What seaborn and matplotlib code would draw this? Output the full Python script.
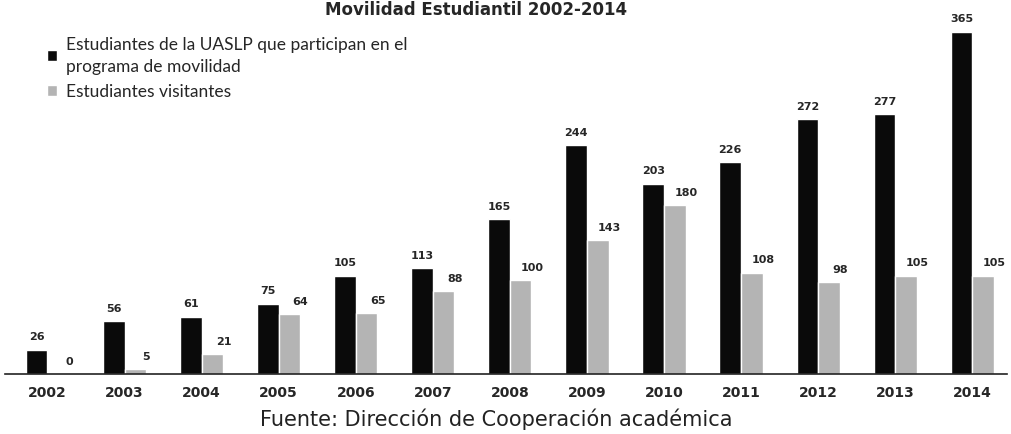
import numpy as np
import pandas as pd
import matplotlib.pyplot as plt
import seaborn as sns

years = ["2002", "2003", "2004", "2005", "2006", "2007", "2008",
         "2009", "2010", "2011", "2012", "2013", "2014"]
uaslp = [26, 56, 61, 75, 105, 113, 165, 244, 203, 226, 272, 277, 365]
visitantes = [0, 5, 21, 64, 65, 88, 100, 143, 180, 108, 98, 105, 105]

lab_uaslp = "Estudiantes de la UASLP que participan en el\nprograma de movilidad"
lab_visit = "Estudiantes visitantes"

df = pd.DataFrame({
    "year": years * 2,
    "value": uaslp + visitantes,
    "serie": [lab_uaslp] * len(years) + [lab_visit] * len(years),
})

sns.set_style("white")
plt.rcParams['font.family'] = ['DejaVu Sans']

fig = plt.figure(figsize=(10.12, 4.35), dpi=100)
ax = fig.add_axes([0.005, 0.138, 0.99, 0.862])

sns.barplot(data=df, x="year", y="value", hue="serie",
            palette=["#0a0a0a", "#b4b4b4"], width=0.56, gap=0,
            saturation=1, ax=ax)

# value labels (second series shifted right, like the original)
for i, cont in enumerate(ax.containers):
    dx = 0 if i == 0 else 8
    for bar, v in zip(cont.patches, cont.datavalues):
        ax.annotate(f"{v:.0f}", (bar.get_x() + bar.get_width() / 2, bar.get_height()),
                    xytext=(dx, 6), textcoords="offset points",
                    ha="center", va="bottom", fontsize=8, fontweight="bold")

ax.set_ylim(0, 400)
ax.set_xlim(-0.55, 12.45)
ax.set_xlabel("")
ax.set_ylabel("")
ax.set_yticks([])
ax.tick_params(axis="x", length=0, pad=8)
for t in ax.get_xticklabels():
    t.set_fontweight("bold")
    t.set_fontsize(10)

sns.despine(ax=ax, left=True)
ax.spines["bottom"].set_linewidth(1.2)
ax.spines["bottom"].set_color("#222222")

leg = ax.legend(loc="upper left", bbox_to_anchor=(0.035, 0.92), frameon=False,
                prop={"family": "Lato", "size": 12.5}, handlelength=0.6,
                handleheight=0.6, handletextpad=0.5, labelspacing=0.55,
                borderaxespad=0)
for t in leg.get_texts():
    t.set_linespacing(1.45)

fig.text(0.47, 0.998, "Movilidad Estudiantil 2002-2014", ha="center",
         va="top", fontsize=12, fontweight="bold")
fig.text(0.49, 0.037, "Fuente: Dirección de Cooperación académica",
         ha="center", va="center", fontsize=15, color="#222222")

fig.savefig("out.png", dpi=100)
